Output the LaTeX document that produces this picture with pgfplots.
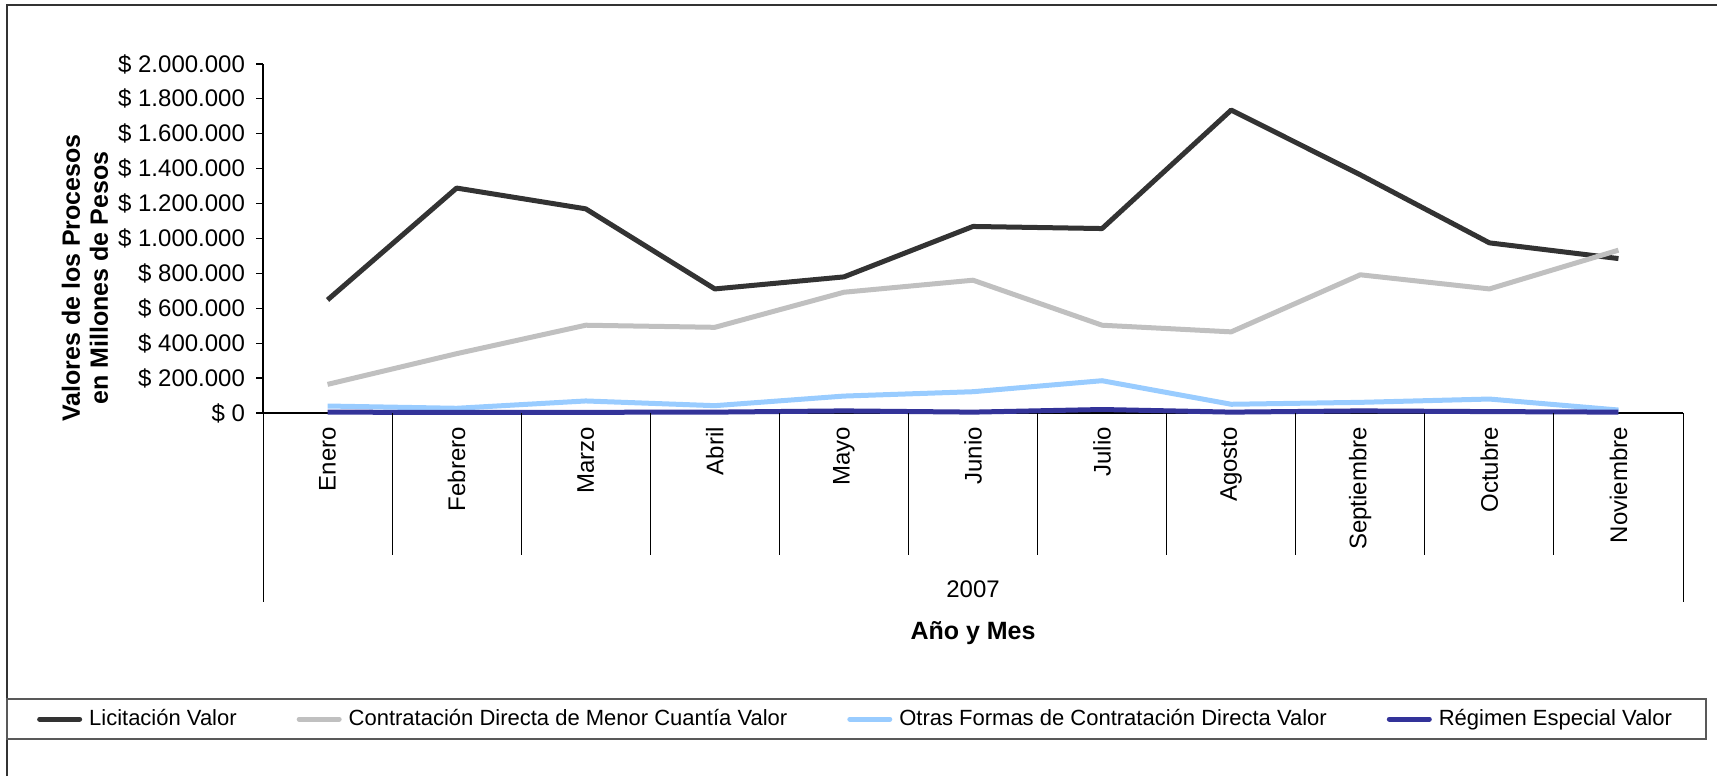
\documentclass[border=0pt]{standalone}
\usepackage{pgfplots}
\pgfplotsset{compat=1.18}
\usepackage{fontspec}
\setmainfont{Liberation Sans}
\definecolor{licit}{HTML}{333333}
\definecolor{contr}{HTML}{C0C0C0}
\definecolor{otras}{HTML}{99CCFF}
\definecolor{regim}{HTML}{333399}
\begin{document}
\begin{tikzpicture}[x=1pt,y=1pt]
\useasboundingbox (0,0) rectangle (858.5,388);
\draw[line width=1pt, black!80] (3.5,0) -- (3.5,385.5) -- (858.5,385.5);
\draw[gray!70!black, line width=0.6pt] (3.5,18.5) rectangle (853,38.5);
\begin{axis}[
  at={(131.5pt,181.5pt)}, anchor=south west,
  scale only axis, width=710pt, height=174.5pt,
  xmin=0, xmax=11, ymin=0, ymax=2000000,
  axis x line=bottom, axis y line=left,
  axis line style={-, black, line width=0.6pt},
  xtick={0.5,1.5,...,10.5},
  xticklabels={Enero,Febrero,Marzo,Abril,Mayo,Junio,Julio,Agosto,Septiembre,Octubre,Noviembre},
  x tick style={draw=none},
  xticklabel style={rotate=90, anchor=east, font=\fontsize{12}{14}\selectfont},
  ytick={0,200000,...,2000000},
  yticklabels={\$ 0,\$ 200.000,\$ 400.000,\$ 600.000,\$ 800.000,\$ 1.000.000,\$ 1.200.000,\$ 1.400.000,\$ 1.600.000,\$ 1.800.000,\$ 2.000.000},
  scaled y ticks=false,
  tick align=outside, major tick length=3.5pt,
  y tick style={black, line width=0.6pt},
  yticklabel style={font=\fontsize{12}{14}\selectfont, xshift=-2pt},
  legend columns=4,
  legend style={draw=none, at={(0.418,-0.877)}, anchor=center,
    font=\fontsize{11}{13}\selectfont,
    /tikz/every even column/.append style={column sep=28pt},
    /tikz/every odd column/.append style={column sep=1.5pt}},
  legend image code/.code={\draw[#1, line cap=round] (0pt,0pt) -- (20pt,0pt);},
  clip=false,
]
\addplot[licit, line width=2.5pt, line join=round] coordinates {
(0.5,648000) (1.5,1289000) (2.5,1170000) (3.5,711000) (4.5,780000) (5.5,1069000)
(6.5,1057000) (7.5,1736000) (8.5,1365000) (9.5,975000) (10.5,885000)};
\addlegendentry{Licitación Valor}
\addplot[contr, line width=2.5pt, line join=round] coordinates {
(0.5,164000) (1.5,340000) (2.5,503000) (3.5,491000) (4.5,692000) (5.5,761000)
(6.5,503000) (7.5,465000) (8.5,792000) (9.5,711000) (10.5,933000)};
\addlegendentry{Contratación Directa de Menor Cuantía Valor}
\addplot[otras, line width=2.5pt, line join=round] coordinates {
(0.5,40000) (1.5,27000) (2.5,69000) (3.5,42000) (4.5,97000) (5.5,122000)
(6.5,185000) (7.5,50000) (8.5,61000) (9.5,80000) (10.5,17000)};
\addlegendentry{Otras Formas de Contratación Directa Valor}
\addplot[regim, line width=2.5pt, line join=round] coordinates {
(0.5,5000) (1.5,3000) (2.5,4000) (3.5,5000) (4.5,12000) (5.5,5000)
(6.5,20000) (7.5,5000) (8.5,12000) (9.5,8000) (10.5,5000)};
\addlegendentry{Régimen Especial Valor}
\end{axis}
\foreach \i in {1,...,10} \draw[black, line width=0.5pt] (131.5+64.545*\i,181.5) -- ++(0,-71);
\draw[black, line width=0.5pt] (131.5,181.5) -- ++(0,-94.5);
\draw[black, line width=0.5pt] (841.5,181.5) -- ++(0,-94.5);
\node[font=\fontsize{12}{14}\selectfont] at (486.5,93.5) {2007};
\node[font=\fontsize{12.5}{14}\selectfont\bfseries] at (486.5,71.5) {Año y Mes};
\node[rotate=90, align=center, font=\fontsize{12.5}{14}\selectfont\bfseries] at (42.5,249) {Valores de los Procesos\\en Millones de Pesos};
\end{tikzpicture}
\end{document}
